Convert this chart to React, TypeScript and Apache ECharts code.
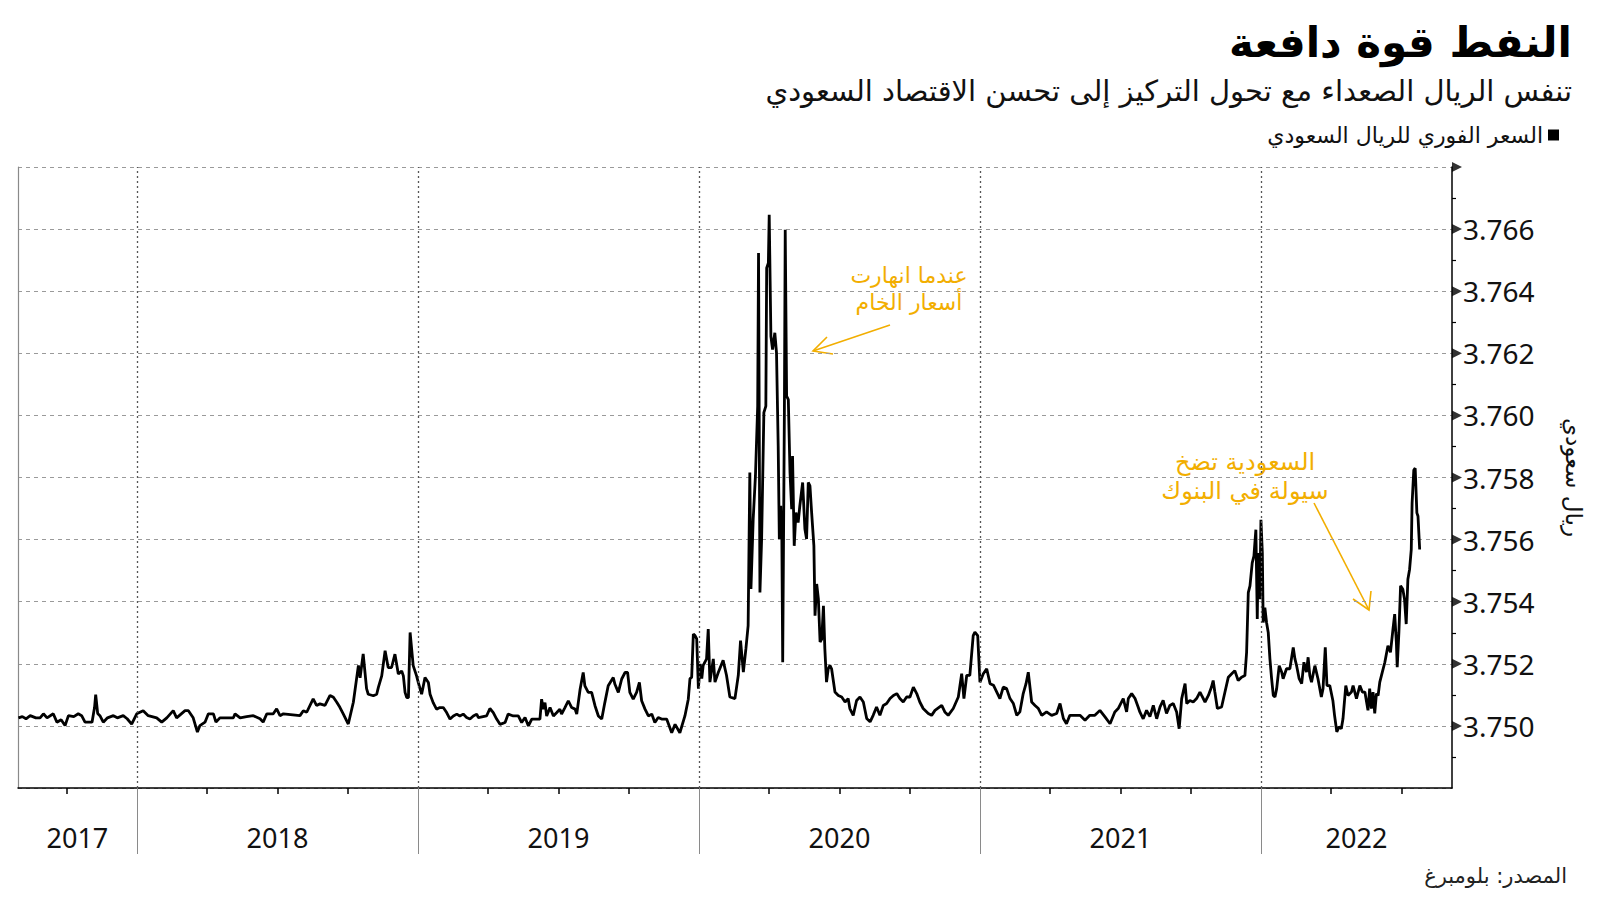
import React, { useEffect, useRef } from "react";
import * as echarts from "echarts";

const TITLE = "النفط قوة دافعة";
const SUBTITLE = "تنفس الريال الصعداء مع تحول التركيز إلى تحسن الاقتصاد السعودي";
const SERIES_NAME = "السعر الفوري للريال السعودي";
const Y_NAME = "ريال سعودي";
const SOURCE = "المصدر: بلومبرغ";
const NOTE_1 = "عندما انهارت\nأسعار الخام";
const NOTE_2 = "السعودية تضخ\nسيولة في البنوك";

const X_MIN = 2017.5765;
const X_MAX = 2022.68;
const yearBreaks = [2018, 2019, 2020, 2021, 2022];
const quarterTicks = [2017.75, 2018.25, 2018.5, 2018.75, 2019.25, 2019.5, 2019.75, 2020.25, 2020.5, 2020.75, 2021.25, 2021.5, 2021.75, 2022.25, 2022.5];
const yearLabelPos = [2017.788, 2018.5, 2019.5, 2020.5, 2021.5, 2022.34];
const yTicks = [3.75, 3.752, 3.754, 3.756, 3.758, 3.76, 3.762, 3.764, 3.766, 3.768];

// time in fractional years
const t = [
  2017.578, 2017.592, 2017.605, 2017.62, 2017.64, 2017.655, 2017.667, 2017.68, 2017.702, 2017.715, 2017.73, 2017.744, 2017.756, 2017.775, 2017.791, 2017.803, 2017.815, 2017.84, 2017.849, 2017.853, 2017.86, 2017.868, 2017.88, 2017.895, 2017.916, 2017.93, 2017.951, 2017.965, 2017.981, 2017.999,
  2018.022, 2018.04, 2018.07, 2018.088, 2018.106, 2018.129, 2018.141, 2018.171, 2018.183, 2018.2, 2018.215, 2018.224, 2018.242, 2018.254, 2018.272, 2018.281, 2018.295, 2018.343, 2018.349, 2018.367, 2018.39, 2018.414, 2018.438, 2018.449, 2018.462, 2018.485, 2018.497, 2018.509, 2018.521, 2018.58,
  2018.592, 2018.604, 2018.627, 2018.639, 2018.651, 2018.669, 2018.687, 2018.699, 2018.711, 2018.722, 2018.734, 2018.752, 2018.77, 2018.788, 2018.794, 2018.805, 2018.817, 2018.823, 2018.841, 2018.853, 2018.859, 2018.871, 2018.883, 2018.894, 2018.906, 2018.918, 2018.93, 2018.942, 2018.948, 2018.954,
  2018.96, 2018.966, 2018.972, 2018.983, 2018.995, 2019.001, 2019.013, 2019.025, 2019.037, 2019.043, 2019.054, 2019.066, 2019.078, 2019.09, 2019.102, 2019.114, 2019.126, 2019.138, 2019.149, 2019.161, 2019.173, 2019.185, 2019.197, 2019.209, 2019.215, 2019.244, 2019.256, 2019.268, 2019.28, 2019.292,
  2019.31, 2019.321, 2019.339, 2019.357, 2019.369, 2019.381, 2019.393, 2019.405, 2019.416, 2019.434, 2019.44, 2019.446, 2019.452, 2019.458, 2019.47, 2019.482, 2019.494, 2019.505, 2019.511, 2019.523, 2019.535, 2019.547, 2019.559, 2019.565, 2019.577, 2019.588, 2019.594, 2019.606, 2019.618, 2019.63,
  2019.642, 2019.654, 2019.665, 2019.677, 2019.695, 2019.701, 2019.713, 2019.725, 2019.737, 2019.746, 2019.754, 2019.766, 2019.778, 2019.788, 2019.796, 2019.808, 2019.82, 2019.832, 2019.843, 2019.855, 2019.867, 2019.885, 2019.903, 2019.915, 2019.932, 2019.95, 2019.962, 2019.968, 2019.974, 2019.98,
  2019.986, 2019.992, 2019.998, 2020.004, 2020.01, 2020.015, 2020.021, 2020.027, 2020.033, 2020.039, 2020.051, 2020.057, 2020.069, 2020.086, 2020.098, 2020.11, 2020.128, 2020.14, 2020.148, 2020.158, 2020.167, 2020.175, 2020.181, 2020.185, 2020.193, 2020.201, 2020.209, 2020.212, 2020.217, 2020.223,
  2020.231, 2020.238, 2020.241, 2020.247, 2020.25, 2020.256, 2020.262, 2020.27, 2020.276, 2020.282, 2020.286, 2020.291, 2020.295, 2020.298, 2020.304, 2020.307, 2020.312, 2020.318, 2020.324, 2020.33, 2020.333, 2020.339, 2020.345, 2020.353, 2020.359, 2020.369, 2020.377, 2020.383, 2020.389, 2020.395,
  2020.401, 2020.409, 2020.413, 2020.419, 2020.425, 2020.431, 2020.437, 2020.443, 2020.448, 2020.454, 2020.46, 2020.466, 2020.472, 2020.484, 2020.496, 2020.508, 2020.52, 2020.531, 2020.537, 2020.549, 2020.561, 2020.573, 2020.585, 2020.597, 2020.609, 2020.62, 2020.632, 2020.644, 2020.656, 2020.668,
  2020.68, 2020.692, 2020.704, 2020.715, 2020.727, 2020.739, 2020.751, 2020.763, 2020.775, 2020.786, 2020.798, 2020.816, 2020.828, 2020.84, 2020.864, 2020.875, 2020.887, 2020.905, 2020.923, 2020.935, 2020.943, 2020.953, 2020.964, 2020.976, 2020.982, 2020.992, 2021.0, 2021.012, 2021.024, 2021.036,
  2021.048, 2021.071, 2021.083, 2021.095, 2021.107, 2021.119, 2021.131, 2021.142, 2021.154, 2021.164, 2021.172, 2021.184, 2021.196, 2021.208, 2021.22, 2021.237, 2021.255, 2021.273, 2021.285, 2021.297, 2021.308, 2021.32, 2021.356, 2021.374, 2021.391, 2021.409, 2021.427, 2021.445, 2021.463, 2021.48,
  2021.492, 2021.51, 2021.522, 2021.528, 2021.54, 2021.552, 2021.563, 2021.569, 2021.581, 2021.593, 2021.605, 2021.617, 2021.629, 2021.641, 2021.652, 2021.664, 2021.676, 2021.688, 2021.7, 2021.709, 2021.718, 2021.73, 2021.736, 2021.747, 2021.759, 2021.771, 2021.783, 2021.789, 2021.801, 2021.813,
  2021.824, 2021.83, 2021.836, 2021.845, 2021.86, 2021.872, 2021.884, 2021.896, 2021.907, 2021.919, 2021.931, 2021.943, 2021.949, 2021.955, 2021.961, 2021.969, 2021.975, 2021.982, 2021.987, 2021.99, 2021.996, 2022.0, 2022.005, 2022.008, 2022.014, 2022.02, 2022.026, 2022.032, 2022.038, 2022.044,
  2022.05, 2022.056, 2022.065, 2022.074, 2022.079, 2022.091, 2022.103, 2022.115, 2022.121, 2022.127, 2022.136, 2022.145, 2022.153, 2022.162, 2022.168, 2022.174, 2022.18, 2022.192, 2022.203, 2022.215, 2022.221, 2022.229, 2022.235, 2022.245, 2022.256, 2022.262, 2022.27, 2022.278, 2022.286, 2022.292,
  2022.302, 2022.31, 2022.322, 2022.328, 2022.34, 2022.352, 2022.361, 2022.37, 2022.381, 2022.387, 2022.393, 2022.399, 2022.405, 2022.411, 2022.417, 2022.423, 2022.432, 2022.441, 2022.452, 2022.461, 2022.47, 2022.476, 2022.482, 2022.485, 2022.491, 2022.497, 2022.505, 2022.511, 2022.517, 2022.523,
  2022.529, 2022.535, 2022.538, 2022.544, 2022.549, 2022.555, 2022.559, 2022.565,
];

// USD/SAR spot rate
const rate = [
  3.75026, 3.7503, 3.75023, 3.75033, 3.75026, 3.75026, 3.75039, 3.75026, 3.75039, 3.75012, 3.7502, 3.75001, 3.75033, 3.7503, 3.75039, 3.75033, 3.75012, 3.75012, 3.7506, 3.75101, 3.7504, 3.75033, 3.75012, 3.75026, 3.75033, 3.75026, 3.75033, 3.75023, 3.75006, 3.75039,
  3.75049, 3.75033, 3.75026, 3.75012, 3.75026, 3.75049, 3.75026, 3.75049, 3.75049, 3.75026, 3.7498, 3.75001, 3.75012, 3.75039, 3.75039, 3.75012, 3.75026, 3.75026, 3.75039, 3.75026, 3.7503, 3.75033, 3.75023, 3.75012, 3.75039, 3.75039, 3.75055, 3.75033, 3.75039, 3.75033,
  3.75049, 3.75044, 3.75087, 3.75066, 3.75071, 3.75066, 3.75098, 3.75092, 3.75076, 3.7506, 3.75039, 3.75006, 3.75076, 3.75195, 3.75155, 3.75232, 3.7512, 3.75102, 3.75097, 3.75102, 3.75124, 3.75161, 3.75242, 3.75188, 3.75188, 3.75231, 3.75167, 3.75177, 3.75161, 3.75108,
  3.75091, 3.75091, 3.75301, 3.75194, 3.75161, 3.7514, 3.75102, 3.75156, 3.7514, 3.75102, 3.75075, 3.75054, 3.75059, 3.75059, 3.75043, 3.75022, 3.75032, 3.75038, 3.75032, 3.75038, 3.75027, 3.75022, 3.75032, 3.75038, 3.75027, 3.75032, 3.75056, 3.75043, 3.75022, 3.75005,
  3.75011, 3.75038, 3.75032, 3.75032, 3.75011, 3.75027, 3.75, 3.75022, 3.75022, 3.75022, 3.75086, 3.75054, 3.75075, 3.75032, 3.75059, 3.75032, 3.75043, 3.75054, 3.75038, 3.75059, 3.75081, 3.75059, 3.75054, 3.75038, 3.75118, 3.75172, 3.75129, 3.75108, 3.75108, 3.75065,
  3.75032, 3.75022, 3.75075, 3.75129, 3.75156, 3.75134, 3.75108, 3.75151, 3.75172, 3.75172, 3.75108, 3.75086, 3.75108, 3.7514, 3.75081, 3.75054, 3.75032, 3.75038, 3.75011, 3.75027, 3.75022, 3.75022, 3.74978, 3.75005, 3.74978, 3.75032, 3.75086, 3.75152, 3.75156, 3.75296,
  3.75291, 3.7528, 3.7512, 3.752, 3.75152, 3.75195, 3.75205, 3.75216, 3.75312, 3.75141, 3.75216, 3.75141, 3.75173, 3.75211, 3.75163, 3.75093, 3.75088, 3.75163, 3.75275, 3.75173, 3.75248, 3.75323, 3.75816, 3.75441, 3.75666, 3.75805, 3.7603, 3.76523, 3.7543, 3.75602,
  3.76009, 3.7603, 3.76475, 3.76491, 3.76646, 3.76255, 3.76212, 3.76266, 3.76201, 3.75901, 3.75602, 3.75709, 3.75602, 3.75205, 3.76009, 3.76598, 3.76062, 3.76051, 3.75816, 3.75698, 3.75869, 3.7558, 3.75687, 3.75655, 3.75709, 3.75784, 3.75634, 3.75602, 3.75784, 3.75773,
  3.75687, 3.7558, 3.75355, 3.75457, 3.75409, 3.7527, 3.7528, 3.75387, 3.75248, 3.75141, 3.75184, 3.75195, 3.75184, 3.75109, 3.75098, 3.75093, 3.75077, 3.75088, 3.75056, 3.75034, 3.75082, 3.75093, 3.75077, 3.75024, 3.75013, 3.75034, 3.75061, 3.75034, 3.75066, 3.75072,
  3.75088, 3.75098, 3.75104, 3.75088, 3.75077, 3.75093, 3.75093, 3.75125, 3.75104, 3.75077, 3.75056, 3.7504, 3.75034, 3.7505, 3.75066, 3.75045, 3.75034, 3.75056, 3.75093, 3.75168, 3.75088, 3.75163, 3.75163, 3.75291, 3.75302, 3.75291, 3.75141, 3.75168, 3.75184, 3.75136,
  3.75131, 3.75088, 3.75125, 3.7512, 3.75088, 3.75072, 3.75034, 3.75045, 3.75104, 3.75136, 3.75173, 3.75077, 3.75066, 3.75056, 3.75034, 3.75045, 3.75034, 3.7504, 3.75072, 3.75024, 3.75007, 3.75034, 3.75034, 3.75018, 3.75034, 3.75034, 3.7505, 3.75029, 3.75007, 3.75045,
  3.75056, 3.75088, 3.75045, 3.75088, 3.75104, 3.75088, 3.75061, 3.75045, 3.75023, 3.7505, 3.7503, 3.75066, 3.75023, 3.75061, 3.75082, 3.7504, 3.75066, 3.75072, 3.75045, 3.74991, 3.75088, 3.75136, 3.75072, 3.75082, 3.75077, 3.75088, 3.75109, 3.75098, 3.75077, 3.75098,
  3.75125, 3.75146, 3.75109, 3.75056, 3.75061, 3.75109, 3.75157, 3.75168, 3.75178, 3.75146, 3.75157, 3.75162, 3.75237, 3.75429, 3.75451, 3.75525, 3.75547, 3.75632, 3.75344, 3.75557, 3.75408, 3.75664, 3.75557, 3.75333, 3.75381, 3.75333, 3.75301, 3.75216, 3.75152, 3.75098,
  3.75093, 3.7512, 3.75194, 3.75173, 3.75152, 3.75184, 3.75184, 3.75253, 3.75216, 3.75194, 3.75152, 3.75136, 3.75205, 3.75173, 3.75221, 3.75162, 3.75141, 3.75194, 3.75152, 3.75093, 3.7512, 3.75253, 3.7513, 3.7513, 3.75082, 3.75034, 3.74981, 3.74997, 3.74991, 3.75023,
  3.7513, 3.75098, 3.75109, 3.7513, 3.75088, 3.7513, 3.75109, 3.75109, 3.7505, 3.7512, 3.75056, 3.75109, 3.7504, 3.75104, 3.75098, 3.75141, 3.75173, 3.75205, 3.75258, 3.75237, 3.75312, 3.7536, 3.75269, 3.75189, 3.75301, 3.75451, 3.7544, 3.75408, 3.75328, 3.75472,
  3.75504, 3.75568, 3.75718, 3.75824, 3.7583, 3.75686, 3.75675, 3.75568,
];

const GOLD = "#f2ae00";
const AR_FONT = "'DejaVu Sans', sans-serif";
const NUM_FONT = "'Noto Sans', sans-serif";

export default function App() {
  const ref = useRef<HTMLDivElement>(null);
  useEffect(() => {
    const chart = echarts.init(ref.current!, null, { renderer: "svg" });
    const lineData = t.map((x, i) => [x, rate[i]]);
    const option: any = {
      animation: false,
      backgroundColor: "#ffffff",
      grid: { left: 18, right: 148, top: 167, bottom: 113, containLabel: false },
      legend: {
        data: [{ name: SERIES_NAME, icon: "rect" }],
        right: 41,
        top: 124,
        padding: 0,
        align: "right",
        itemWidth: 11,
        itemHeight: 11,
        itemGap: 10,
        textStyle: { fontSize: 22, fontFamily: AR_FONT, color: "#111" },
        selectedMode: false,
      },
      xAxis: [
        {
          type: "value",
          min: X_MIN,
          max: X_MAX,
          position: "bottom",
          axisLine: { show: true, onZero: false, lineStyle: { color: "#000", width: 1.5 } },
          axisTick: { show: true, customValues: quarterTicks, length: 6, lineStyle: { color: "#000", width: 1.5 } },
          axisLabel: {
            show: true,
            customValues: yearLabelPos,
            formatter: (v: number) => String(Math.floor(v)),
            fontSize: 27,
            fontFamily: NUM_FONT,
            color: "#111",
            margin: 36,
          },
          splitLine: { show: false },
        },
        {
          type: "value",
          min: X_MIN,
          max: X_MAX,
          position: "bottom",
          axisLine: { show: false },
          axisTick: { show: true, customValues: yearBreaks, length: 66, lineStyle: { color: "#8a8a8a", width: 1 } },
          axisLabel: { show: false },
          splitLine: { show: false },
        },
      ],
      yAxis: [
        {
          type: "value",
          position: "right",
          min: 3.748,
          max: 3.768,
          interval: 0.002,
          axisLine: { show: true, onZero: false, lineStyle: { color: "#000", width: 1.5 } },
          axisTick: { show: false },
          minorTick: { show: true, splitNumber: 2, length: 4, lineStyle: { color: "#000", width: 1.2 } },
          axisLabel: {
            formatter: (v: number) => (v < 3.7495 || v > 3.7665 ? "" : v.toFixed(3)),
            fontSize: 28,
            fontFamily: NUM_FONT,
            color: "#111",
            margin: 11,
          },
          splitLine: { show: true, lineStyle: { color: "#9a9a9a", type: [4, 4], width: 1 } },
          name: Y_NAME,
          nameLocation: "middle",
          nameGap: 110,
          nameRotate: -90,
          nameTextStyle: { fontSize: 23, fontFamily: AR_FONT, color: "#111" },
        },
        {
          type: "value",
          position: "left",
          min: 3.748,
          max: 3.768,
          interval: 0.002,
          axisLine: { show: true, onZero: false, lineStyle: { color: "#8a8a8a", width: 1.2 } },
          axisTick: { show: false },
          axisLabel: { show: false },
          splitLine: { show: false },
        },
      ],
      series: [
        {
          type: "line",
          name: "yearGrid",
          data: [],
          z: 1,
          silent: true,
          markLine: {
            silent: true,
            symbol: ["none", "none"],
            label: { show: false },
            lineStyle: { color: "#555", type: [2, 3], width: 1.3 },
            data: yearBreaks.map((y) => ({ xAxis: y })),
          },
        },
        {
          type: "line",
          name: SERIES_NAME,
          data: lineData,
          showSymbol: false,
          symbol: "none",
          z: 3,
          lineStyle: { color: "#000", width: 2.8 },
          itemStyle: { color: "#000" },
        },
        {
          type: "scatter",
          name: "ticks",
          data: yTicks.map((v) => [X_MAX, v]),
          symbol: "triangle",
          symbolRotate: -90,
          symbolSize: 10,
          symbolOffset: [5, 0],
          itemStyle: { color: "#000" },
          clip: false,
          silent: true,
          z: 5,
        },
      ],
      graphic: [
        {
          type: "text",
          x: 1572,
          y: 42,
          style: { text: TITLE, fill: "#000", font: `bold 42px ${AR_FONT}`, textAlign: "right", textVerticalAlign: "middle" },
        },
        {
          type: "text",
          x: 1572,
          y: 91,
          style: { text: SUBTITLE, fill: "#111", font: `29px ${AR_FONT}`, textAlign: "right", textVerticalAlign: "middle" },
        },
        {
          type: "text",
          x: 909,
          y: 289,
          style: { text: NOTE_1, fill: GOLD, font: `22px ${AR_FONT}`, lineHeight: 27, textAlign: "center", textVerticalAlign: "middle" },
        },
        {
          type: "line",
          shape: { x1: 890, y1: 325, x2: 813, y2: 351 },
          style: { stroke: GOLD, lineWidth: 1.6 },
        },
        {
          type: "polyline",
          shape: { points: [[827, 337], [813, 351], [833, 354]] },
          style: { stroke: GOLD, lineWidth: 1.6, fill: null },
        },
        {
          type: "text",
          x: 1245,
          y: 476,
          style: { text: NOTE_2, fill: GOLD, font: `24px ${AR_FONT}`, lineHeight: 29, textAlign: "center", textVerticalAlign: "middle" },
        },
        {
          type: "line",
          shape: { x1: 1314, y1: 503, x2: 1369, y2: 610 },
          style: { stroke: GOLD, lineWidth: 1.6 },
        },
        {
          type: "polyline",
          shape: { points: [[1353, 599], [1369, 610], [1371, 591]] },
          style: { stroke: GOLD, lineWidth: 1.6, fill: null },
        },
        {
          type: "text",
          x: 1567,
          y: 876,
          style: { text: SOURCE, fill: "#222", font: `21px ${AR_FONT}`, textAlign: "right", textVerticalAlign: "middle" },
        },
      ],
    };
    chart.setOption(option);
    return () => chart.dispose();
  }, []);
  return <div ref={ref} style={{ width: 1600, height: 901, position: "absolute", left: 0, top: 0 }} />;
}
